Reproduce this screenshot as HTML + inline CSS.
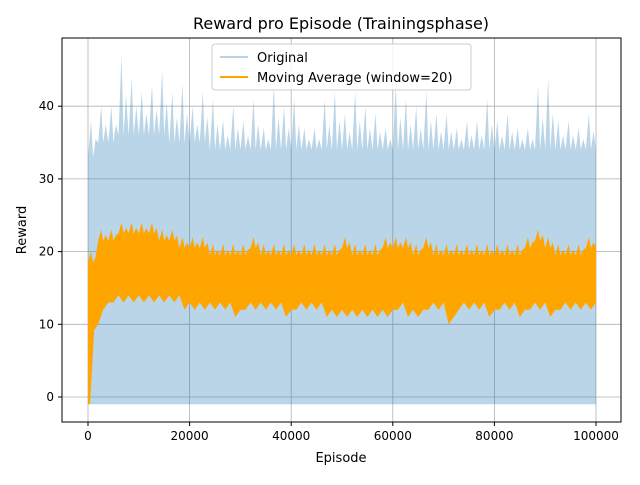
<!DOCTYPE html>
<html><head><meta charset="utf-8"><style>
body{margin:0;background:#fff;font-family:"Liberation Sans","DejaVu Sans",sans-serif}
svg text{font-family:"DejaVu Sans","Liberation Sans",sans-serif;fill:#000}
</style></head><body>
<svg id="chart" width="640" height="480" viewBox="0 0 640 480" xmlns="http://www.w3.org/2000/svg">
<rect width="640" height="480" fill="#fff"/>
<g id="grid"></g>
<g id="marks"></g>
<rect x="62" y="38" width="559" height="384" fill="none" stroke="#000" stroke-width="1"/>
<g id="axes"></g>
<text x="341" y="29" font-size="16" text-anchor="middle">Reward pro Episode (Trainingsphase)</text>
<text x="341" y="462" font-size="13" text-anchor="middle">Episode</text>
<text x="26" y="230" font-size="13" text-anchor="middle" transform="rotate(-90 26 230)">Reward</text>
<g>
<rect x="212" y="44" width="259" height="46" rx="3" fill="#fff" fill-opacity="0.8" stroke="#ccc"/>
<line x1="220" y1="57" x2="248" y2="57" stroke="#b9d3e8" stroke-width="2"/>
<text x="257" y="62" font-size="13">Original</text>
<line x1="220" y1="77" x2="248" y2="77" stroke="#ffa500" stroke-width="2"/>
<text x="257" y="82" font-size="13">Moving Average (window=20)</text>
</g>
</svg>
<script>
const binSize = 2000;
const origMax = [38,40,40,47,44,42,43,45,42,43,40,42,41,38,40,38,41,37,43,40,41,37,37,41,42,39,42,40,39,37,43,41,40,42,39,39,37,38,38,41,38,39,37,37,43,44,38,38,37,39];
const origTyp = [33,35,35,36,36,36,36,36,35,35,35,35,34,34,34,34,34,34,34,34,34,34,34,34,34,34,34,34,34,34,34,34,34,34,34,34,34,34,34,34,34,34,34,34,34,34,34,34,34,34];
const maMax = [20,23,23,24,24,24,24,23,23,22,22,22,21,21,21,21,22,21,21,21,21,21,21,21,21,22,21,21,21,22,22,22,21,22,21,21,21,21,21,21,21,21,21,22,23,22,21,21,21,22];
const maMin = [9,12,13,13,13,13,13,13,13,12,12,12,12,12,11,12,12,12,12,11,12,12,12,11,11,11,11,11,11,11,12,11,11,12,12,10,12,12,12,11,12,12,11,12,12,11,12,12,12,12];
const maStartMin = -1;
const xTicks = [0,20000,40000,60000,80000,100000];
const yTicks = [0,10,20,30,40];
const xS = v => 88 + v*(508/100000);
const yS = v => 397 - v*7.27;
const NS = 'http://www.w3.org/2000/svg';
const marks = document.getElementById('marks'), grid = document.getElementById('grid'), axes = document.getElementById('axes');
function band(up, mid, lo, fill, op, name){
  let pts=[];
  up.forEach((v,i)=>{const x0=xS(i*binSize),x1=xS((i+1)*binSize);
    pts.push([x0,yS(mid[i])],[x0+(x1-x0)*0.3,yS(v)],[x0+(x1-x0)*0.5,yS(mid[i])],[x0+(x1-x0)*0.75,yS((v+mid[i])/2)]);});
  pts.push([xS(up.length*binSize),yS(mid[mid.length-1])]);
  for(let i=lo.length-1;i>=0;i--){const x0=xS(i*binSize),x1=xS((i+1)*binSize);
    pts.push([x1,yS(lo[i]+(name==='ma'?1:0))],[x0+(x1-x0)*0.5,yS(lo[i])]);}
  pts.push([xS(0),yS(lo[0])]);
  const p=document.createElementNS(NS,'polygon');
  p.setAttribute('points',pts.map(q=>q[0].toFixed(1)+','+q[1].toFixed(1)).join(' '));
  p.setAttribute('fill',fill);
  p.setAttribute('fill-opacity',op);
  
  
  marks.appendChild(p);
}
const origLow = origMax.map(()=>-1);
band(origMax, origTyp, origLow, '#1f77b4', 0.31, 'orig');
band(maMax, maMax.map(v=>v-1.5), maMin, '#ffa500', 1, 'ma');
const st=document.createElementNS(NS,'polygon');
st.setAttribute('points',`${xS(0)},${yS(maStartMin)} ${xS(0)+2},${yS(maStartMin)} ${xS(1200)},${yS(maMin[0])} ${xS(0)},${yS(16)}`);
st.setAttribute('fill','#ffa500');


marks.appendChild(st);
xTicks.forEach(t=>{const x=xS(t);
  const l=document.createElementNS(NS,'line');l.setAttribute('x1',x);l.setAttribute('x2',x);l.setAttribute('y1',38);l.setAttribute('y2',422);l.setAttribute('stroke','#b0b0b0');l.setAttribute('stroke-width','0.8');
  
  grid.appendChild(l);
  const k=document.createElementNS(NS,'line');k.setAttribute('x1',x);k.setAttribute('x2',x);k.setAttribute('y1',422);k.setAttribute('y2',426);k.setAttribute('stroke','#000');axes.appendChild(k);
  const tx=document.createElementNS(NS,'text');tx.setAttribute('x',x);tx.setAttribute('y',440);tx.setAttribute('font-size','12');tx.setAttribute('text-anchor','middle');tx.textContent=t;
  
  axes.appendChild(tx);});
yTicks.forEach(t=>{const y=yS(t);
  const l=document.createElementNS(NS,'line');l.setAttribute('x1',62);l.setAttribute('x2',621);l.setAttribute('y1',y);l.setAttribute('y2',y);l.setAttribute('stroke','#b0b0b0');l.setAttribute('stroke-width','0.8');
  
  grid.appendChild(l);
  const k=document.createElementNS(NS,'line');k.setAttribute('x1',58);k.setAttribute('x2',62);k.setAttribute('y1',y);k.setAttribute('y2',y);k.setAttribute('stroke','#000');axes.appendChild(k);
  const tx=document.createElementNS(NS,'text');tx.setAttribute('x',54);tx.setAttribute('y',y+4);tx.setAttribute('font-size','12');tx.setAttribute('text-anchor','end');tx.textContent=t;
  
  axes.appendChild(tx);});
</script>
</body></html>
